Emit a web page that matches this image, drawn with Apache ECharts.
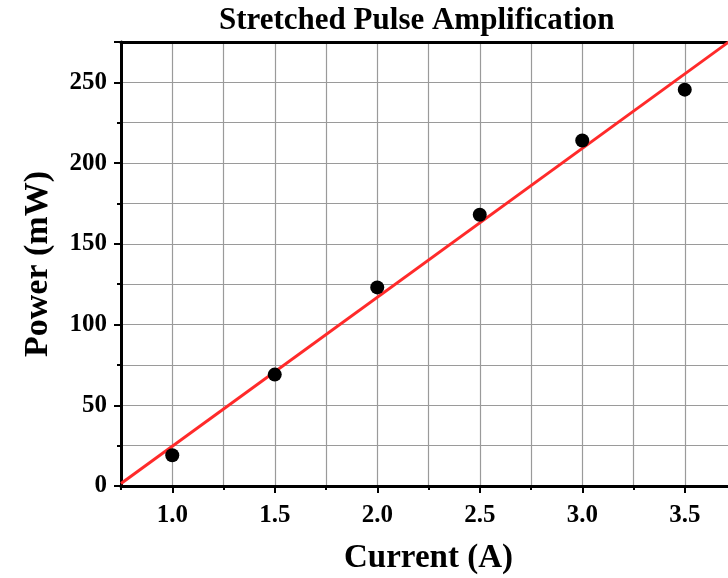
<!DOCTYPE html>
<html>
<head>
<meta charset="utf-8">
<script src="https://cdn.jsdelivr.net/npm/echarts@6/dist/echarts.min.js"></script>
<style>
  html, body { margin: 0; padding: 0; background: #fff; }
  #chart { width: 728px; height: 578px; }
</style>
</head>
<body>
<div id="chart"></div>
<script>
// Measured output power against pump current
const current = [1.0, 1.5, 2.0, 2.5, 3.0, 3.5];
const power = [19, 69, 123, 168, 214, 245.5];

// Linear fit drawn across the whole axis range (end points)
const fitX = [0.75, 3.75];
const fitY = [1.5, 278.3];

// Labelled tick positions on the current axis
const xMajorTicks = [1.0, 1.5, 2.0, 2.5, 3.0, 3.5];

const FONT = '"Liberation Serif", "DejaVu Serif", serif';

const chart = echarts.init(document.getElementById('chart'), null, { renderer: 'canvas' });

chart.setOption({
  backgroundColor: '#ffffff',
  animation: false,
  title: {
    text: 'Stretched Pulse Amplification',
    left: 214,
    top: 0,
    textStyle: { fontFamily: FONT, fontWeight: 'bold', fontSize: 31, color: '#000' }
  },
  // the plot runs a little past the right edge of the page
  grid: {
    left: 121, top: 42, width: 615, height: 444,
    containLabel: false, outerBoundsMode: 'none'
  },
  xAxis: [
    {
      type: 'value',
      position: 'bottom',
      min: 0.75, max: 3.75, interval: 0.25,
      name: 'Current (A)',
      nameLocation: 'middle',
      nameGap: 56,
      nameTextStyle: { fontFamily: FONT, fontWeight: 'bold', fontSize: 33, color: '#000' },
      axisLine: { show: true, onZero: false, lineStyle: { color: '#000', width: 3 } },
      axisTick: { show: true, length: 7, lineStyle: { color: '#000', width: 2 }, customValues: xMajorTicks },
      axisLabel: {
        customValues: xMajorTicks,
        margin: 17,
        fontFamily: FONT, fontWeight: 'bold', fontSize: 25, color: '#000',
        formatter: v => v.toFixed(1)
      },
      splitLine: { show: false }
    },
    {
      type: 'value',
      position: 'bottom',
      min: 0.75, max: 3.75, interval: 0.25,
      axisLine: { show: false },
      axisTick: { show: true, length: 4, lineStyle: { color: '#000', width: 2 } },
      axisLabel: { show: false },
      splitLine: { show: true, lineStyle: { color: '#9a9a9a', width: 1.2 } }
    },
    {
      type: 'value',
      position: 'top',
      min: 0.75, max: 3.75,
      axisLine: { show: true, onZero: false, lineStyle: { color: '#000', width: 3 } },
      axisTick: { show: false },
      axisLabel: { show: false },
      splitLine: { show: false }
    }
  ],
  yAxis: {
    type: 'value',
    min: 0, max: 275, interval: 50,
    name: 'Power (mW)',
    nameLocation: 'middle',
    nameGap: 66,
    nameTextStyle: { fontFamily: FONT, fontWeight: 'bold', fontSize: 34, color: '#000' },
    axisLine: { show: true, onZero: false, lineStyle: { color: '#000', width: 3 } },
    axisTick: { show: true, length: 7, lineStyle: { color: '#000', width: 2 } },
    minorTick: { show: true, splitNumber: 2, length: 4, lineStyle: { color: '#000', width: 2 } },
    axisLabel: {
      margin: 14, showMaxLabel: false,
      fontFamily: FONT, fontWeight: 'bold', fontSize: 25, color: '#000'
    },
    splitLine: { show: true, lineStyle: { color: '#9a9a9a', width: 1.2 } },
    minorSplitLine: { show: true, lineStyle: { color: '#9a9a9a', width: 1.2 } }
  },
  series: [
    {
      name: 'Linear fit',
      type: 'line',
      xAxisIndex: 0,
      data: fitX.map((x, i) => [x, fitY[i]]),
      showSymbol: false,
      symbol: 'none',
      clip: true,
      lineStyle: { color: '#ff2a2a', width: 3 },
      z: 3
    },
    {
      name: 'Power',
      type: 'scatter',
      xAxisIndex: 0,
      data: current.map((x, i) => [x, power[i]]),
      symbol: 'circle',
      symbolSize: 14,
      itemStyle: { color: '#000', opacity: 1 },
      z: 4
    }
  ]
});
</script>
</body>
</html>
